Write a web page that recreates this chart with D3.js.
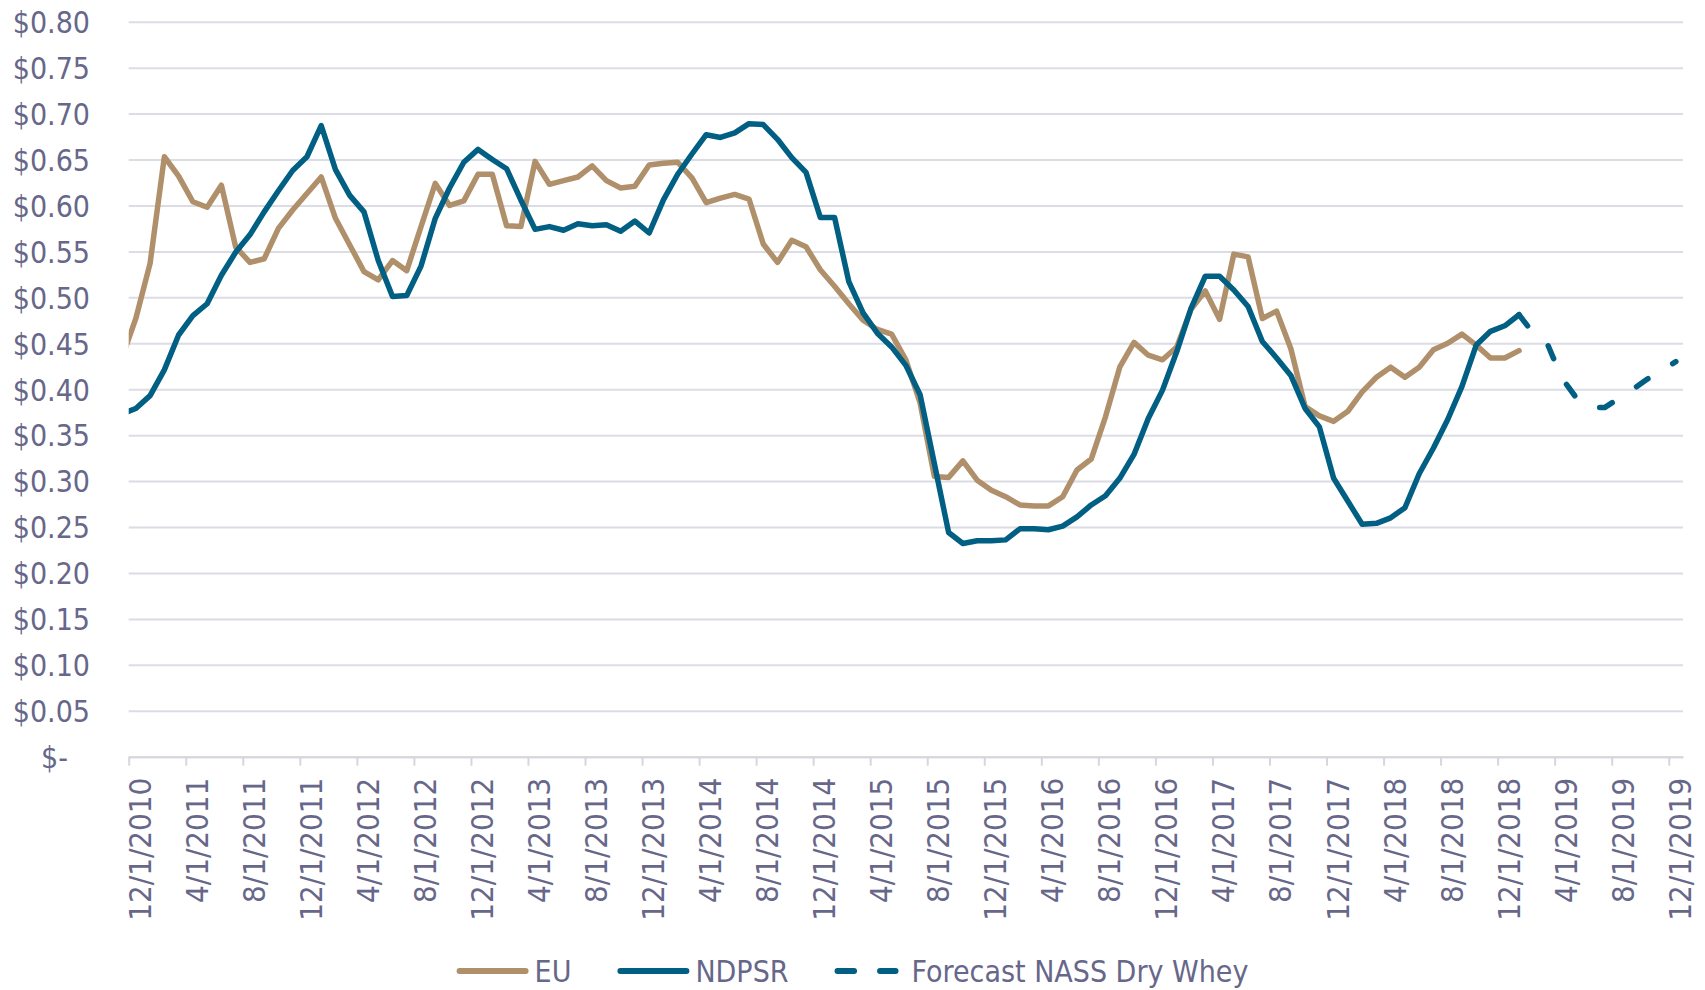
<!DOCTYPE html>
<html>
<head>
<meta charset="utf-8">
<script src="https://cdnjs.cloudflare.com/ajax/libs/d3/7.8.5/d3.min.js"></script>
<style>
body { margin: 0; background: #fff; }
svg text { font-family: "DejaVu Sans Condensed", "DejaVu Sans", sans-serif; font-stretch: condensed; fill: #67678a; }
</style>
</head>
<body>
<svg id="chart" width="1705" height="990"></svg>
<script>
// monthly values, Nov 2010 .. Jan 2019 (first point sits left of the axis start and is clipped)
var euValues = [
	0.433, 0.477, 0.537, 0.653, 0.632, 0.604, 0.598, 0.622, 0.555, 0.538, 0.542, 0.575,
	0.595, 0.613, 0.631, 0.586, 0.557, 0.528, 0.519, 0.540, 0.529, 0.577, 0.624, 0.600,
	0.605, 0.634, 0.634, 0.578, 0.577, 0.648, 0.623, 0.627, 0.631, 0.643, 0.627, 0.619,
	0.621, 0.644, 0.646, 0.647, 0.630, 0.603, 0.608, 0.612, 0.607, 0.558, 0.538, 0.562,
	0.555, 0.530, 0.512, 0.493, 0.475, 0.465, 0.460, 0.432, 0.385, 0.305, 0.304, 0.322,
	0.301, 0.290, 0.283, 0.274, 0.273, 0.273, 0.283, 0.312, 0.324, 0.370, 0.424, 0.451,
	0.437, 0.432, 0.446, 0.487, 0.507, 0.476, 0.547, 0.544, 0.477, 0.485, 0.444, 0.381,
	0.371, 0.365, 0.376, 0.397, 0.413, 0.424, 0.413, 0.424, 0.443, 0.450, 0.460, 0.448,
	0.434, 0.434, 0.442
];

var ndpsrValues = [
	0.373, 0.379, 0.393, 0.421, 0.459, 0.480, 0.493, 0.524, 0.549, 0.568, 0.593, 0.616,
	0.638, 0.653, 0.687, 0.639, 0.611, 0.593, 0.540, 0.501, 0.502, 0.534, 0.586, 0.619,
	0.647, 0.661, 0.650, 0.640, 0.606, 0.574, 0.577, 0.573, 0.580, 0.578, 0.579, 0.572,
	0.583, 0.570, 0.606, 0.634, 0.656, 0.677, 0.674, 0.679, 0.689, 0.688, 0.672, 0.652,
	0.636, 0.587, 0.587, 0.517, 0.483, 0.461, 0.446, 0.426, 0.394, 0.319, 0.244, 0.232,
	0.235, 0.235, 0.236, 0.248, 0.248, 0.247, 0.251, 0.261, 0.274, 0.284, 0.303, 0.329,
	0.368, 0.399, 0.441, 0.488, 0.523, 0.523, 0.508, 0.490, 0.452, 0.434, 0.415, 0.379,
	0.359, 0.303, 0.278, 0.253, 0.254, 0.260, 0.271, 0.308, 0.336, 0.367, 0.403, 0.448,
	0.463, 0.469, 0.481
];

// Jan 2019 .. Dec 2019
var forecastValues = [0.481, 0.461, 0.449, 0.412, 0.391, 0.380, 0.380, 0.390, 0.400, 0.411, 0.421, 0.430];

var xTickLabels = [
	"12/1/2010", "4/1/2011", "8/1/2011", "12/1/2011", "4/1/2012", "8/1/2012", "12/1/2012",
	"4/1/2013", "8/1/2013", "12/1/2013", "4/1/2014", "8/1/2014", "12/1/2014", "4/1/2015",
	"8/1/2015", "12/1/2015", "4/1/2016", "8/1/2016", "12/1/2016", "4/1/2017", "8/1/2017",
	"12/1/2017", "4/1/2018", "8/1/2018", "12/1/2018", "4/1/2019", "8/1/2019", "12/1/2019"
];

var yTicks = [0, 0.05, 0.10, 0.15, 0.20, 0.25, 0.30, 0.35, 0.40, 0.45, 0.50, 0.55, 0.60, 0.65, 0.70, 0.75, 0.80];

var seriesStart = new Date(2010, 10, 1),
	forecastStart = new Date(2019, 0, 1),
	axisStart = new Date(2010, 11, 1),
	axisEnd = new Date(2020, 0, 1);

var svg = d3.select("#chart"),
	margin = {top: 21.7, right: 22, bottom: 233.3, left: 128.7},
	width = +svg.attr("width") - margin.left - margin.right,
	height = +svg.attr("height") - margin.top - margin.bottom,
	g = svg.append("g").attr("transform", "translate(" + margin.left + "," + margin.top + ")");

var parseDate = d3.timeParse("%m/%d/%Y");
function monthIndex(d) { return d3.timeMonth.count(axisStart, d); }

// month-based axis, points sit in the middle of their month
var x = d3.scaleLinear()
	.domain([0, monthIndex(axisEnd)])
	.range([0, width]);

var y = d3.scaleLinear()
	.domain([0, 0.8])
	.range([height, 0]);

var gridColor = "#dcdce4";

// y axis + gridlines
var yAxis = g.append("g")
	.attr("class", "y axis")
	.call(d3.axisLeft(y)
		.tickValues(yTicks)
		.tickSize(-width)
		.tickPadding(38.7)
		.tickFormat(function(d) { return d === 0 ? "$-" : "$" + d.toFixed(2); }));

yAxis.select(".domain").remove();
yAxis.selectAll(".tick line").attr("stroke", gridColor).attr("stroke-width", 2);
yAxis.selectAll(".tick text")
	.style("font-size", "30px")
	.attr("dy", "0.36em")
	.attr("dx", function(d) { return d === 0 ? -22 : 0; });

// x axis
var xAxis = g.append("g")
	.attr("class", "x axis")
	.attr("transform", "translate(0," + height + ")")
	.call(d3.axisBottom(x)
		.tickValues(xTickLabels.map(function(s) { return monthIndex(parseDate(s)); }))
		.tickSizeInner(9)
		.tickSizeOuter(0)
		.tickFormat(function(d, i) { return xTickLabels[i]; }));

xAxis.select(".domain").attr("stroke", "#d6d6df").attr("stroke-width", 2);
xAxis.selectAll(".tick line").attr("stroke", "#d6d6df").attr("stroke-width", 2);
xAxis.selectAll(".tick text")
	.style("font-size", "31px")
	.attr("text-anchor", "end")
	.attr("transform", "rotate(-90)")
	.attr("x", -21)
	.attr("y", 21.5)
	.attr("dy", null);

// clip the lines to the plot area (the Nov 2010 point lies left of it)
g.append("clipPath")
	.attr("id", "plot-clip")
	.append("rect")
	.attr("x", 0)
	.attr("y", -20)
	.attr("width", width)
	.attr("height", height + 40);

function toPoints(values, start) {
	return values.map(function(v, i) { return {date: d3.timeMonth.offset(start, i), value: v}; });
}

var line = d3.line()
	.x(function(d) { return x(monthIndex(d.date) + 0.5); })
	.y(function(d) { return y(d.value); });

var series = [
	{name: "EU", points: toPoints(euValues, seriesStart), color: "#b0906a", dash: null},
	{name: "NDPSR", points: toPoints(ndpsrValues, seriesStart), color: "#005f83", dash: null},
	{name: "Forecast NASS Dry Whey", points: toPoints(forecastValues, forecastStart), color: "#005f83", dash: "14,29"}
];

g.append("g")
	.attr("clip-path", "url(#plot-clip)")
	.selectAll("path")
	.data(series)
	.enter().append("path")
	.attr("fill", "none")
	.attr("stroke", function(d) { return d.color; })
	.attr("stroke-width", 5.5)
	.attr("stroke-linejoin", "round")
	.attr("stroke-linecap", "round")
	.attr("stroke-dasharray", function(d) { return d.dash; })
	.attr("d", function(d) { return line(d.points); });

// legend, centred under the chart
var legendItems = [
	{label: "EU", color: "#b0906a", dash: null, lineLen: 72, textGap: 6},
	{label: "NDPSR", color: "#005f83", dash: null, lineLen: 72, textGap: 6},
	{label: "Forecast NASS Dry Whey", color: "#005f83", dash: "16.5,26", lineLen: 64, textGap: 13}
];

var legend = svg.append("g").attr("transform", "translate(0,971)");
var cursor = 0;
legendItems.forEach(function(item, i) {
	var item_g = legend.append("g");
	item_g.append("line")
		.attr("x1", cursor + 3)
		.attr("x2", cursor + item.lineLen - 3)
		.attr("stroke", item.color)
		.attr("stroke-width", 6)
		.attr("stroke-linecap", "round")
		.attr("stroke-dasharray", item.dash);
	var t = item_g.append("text")
		.attr("x", cursor + item.lineLen + item.textGap)
		.attr("dy", "0.36em")
		.style("font-size", "30px")
		.text(item.label);
	cursor += item.lineLen + item.textGap + t.node().getComputedTextLength();
	if (i < legendItems.length - 1) cursor += 46;
});
legend.attr("transform", "translate(" + (852.5 - cursor / 2) + ",971)");
</script>
</body>
</html>
